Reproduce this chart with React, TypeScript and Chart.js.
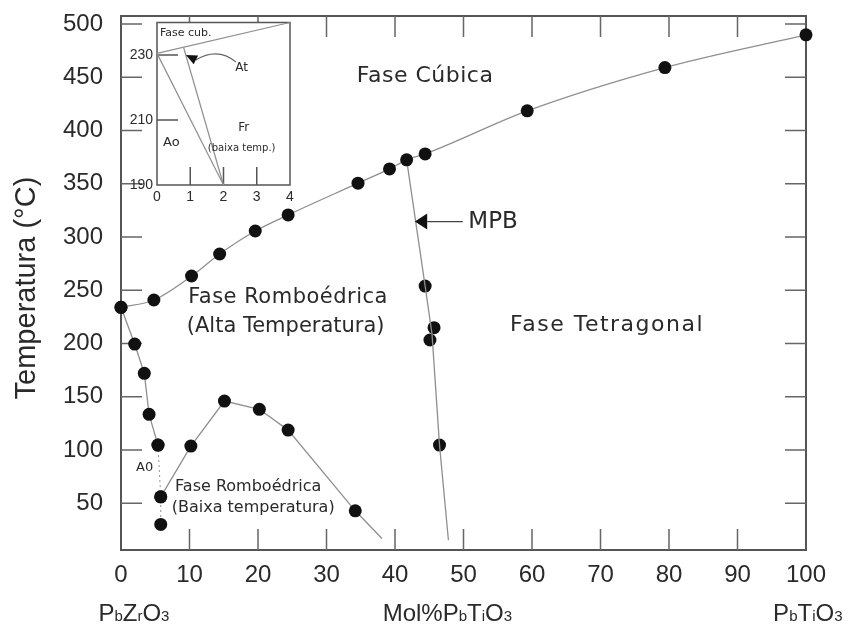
import React, { useEffect, useRef } from "react";
import { Chart, registerables } from "chart.js";

Chart.register(...registerables);

// ---------------- main chart data ----------------
const cubicX = [0, 4.8, 10.3, 14.4, 19.6, 24.4, 34.6, 39.2, 41.7, 44.4, 59.3, 79.4, 100];
const cubicY = [233.9, 240.8, 263.3, 284.0, 305.6, 320.7, 350.5, 363.9, 372.4, 378.0, 418.4, 459.1, 489.8];
const aoX = [0, 2.0, 3.4, 4.1, 5.4];
const aoY = [233.9, 199.4, 171.9, 133.4, 104.5];
const aoDotX = [5.4, 5.8, 5.8];
const aoDotY = [104.5, 55.9, 30.0];
const lowX = [5.8, 10.2, 15.1, 20.2, 24.4, 34.2, 38.1];
const lowY = [55.9, 103.6, 145.9, 138.1, 118.6, 42.8, 16.8];
const mpbX = [44.4, 45.7, 45.1, 46.5];
const mpbY = [253.9, 214.8, 203.2, 104.5];
const mpbLineX = [41.7, 44.4, 45.4, 46.5, 47.8];
const mpbLineY = [372.4, 253.9, 209.0, 104.5, 15.2];
const xTicks = [0, 10, 20, 30, 40, 50, 60, 70, 80, 90, 100];
const yTicks = [50, 100, 150, 200, 250, 300, 350, 400, 450, 500];
const yTitle = "Temperatura (°C)";

// formula labels under the x axis: [text, isSmall]
const formulaLeft: [string, boolean][] = [["P", false], ["b", true], ["Z", false], ["r", true], ["O", false], ["3", true]];
const formulaMid: [string, boolean][] = [["Mol%P", false], ["b", true], ["T", false], ["i", true], ["O", false], ["3", true]];
const formulaRight: [string, boolean][] = [["P", false], ["b", true], ["T", false], ["i", true], ["O", false], ["3", true]];

// region labels (text, x, y in data units, font size, letter spacing, align)
const mainLabels: [string, number, number, number, number, CanvasTextAlign][] = [
  ["Fase Cúbica", 44.4, 451.2, 22, 0.5, "center"],
  ["Fase Romboédrica", 9.8, 242.7, 21, 0.5, "left"],
  ["(Alta Temperatura)", 9.6, 215.4, 21, 0, "left"],
  ["Fase Tetragonal", 56.8, 217.3, 22, 1.5, "left"],
  ["A0", 2.2, 82.9, 13, 0, "left"],
  ["Fase Romboédrica", 7.9, 65.0, 16, 0, "left"],
  ["(Baixa temperatura)", 7.4, 45.3, 16, 0, "left"],
  ["MPB", 50.7, 314.4, 23, 0, "left"],
];

// ---------------- inset data ----------------
const insetCubX = [0, 4];
const insetCubY = [230.5, 240];
const insetAoX = [0, 2];
const insetAoY = [230.5, 190];
const insetAtX = [0.8, 2];
const insetAtY = [232.3, 190];
const insetXTicks = [0, 1, 2, 3, 4];
const insetYTicks = [190, 210, 230];
const insetLabels: [string, number, number, number][] = [
  ["Fase cub.", 0.09, 236.8, 11],
  ["At", 2.35, 226.0, 12],
  ["Fr", 2.44, 207.5, 12],
  ["(baixa temp.)", 1.53, 201.4, 10],
  ["Ao", 0.18, 202.9, 13],
];

const SANS = "'Liberation Sans', Arial, sans-serif";
const DEJAVU = "'DejaVu Sans', sans-serif";
const TEXT = "#2a2a2a";
const LINE = "#8f8f8f";

function pts(xs: number[], ys: number[]) {
  return xs.map((x, i) => ({ x, y: ys[i] }));
}

function drawRuns(ctx: CanvasRenderingContext2D, runs: [string, boolean][], x: number, base: number, big: number, small: number) {
  let cx = x;
  ctx.textAlign = "left";
  ctx.textBaseline = "alphabetic";
  for (const [t, s] of runs) {
    ctx.font = `${s ? small : big}px ${SANS}`;
    ctx.fillText(t, cx, base);
    cx += ctx.measureText(t).width;
  }
}

const mainDecor = {
  id: "mainDecor",
  beforeDatasetsDraw(chart: any) {
    const { ctx, chartArea: a, scales } = chart;
    const x = scales.x, y = scales.y;
    ctx.save();
    ctx.strokeStyle = "#555";
    ctx.lineWidth = 2;
    ctx.strokeRect(a.left, a.top, a.right - a.left, a.bottom - a.top);
    ctx.lineWidth = 1.5;
    ctx.strokeStyle = "#666";
    ctx.beginPath();
    for (const v of xTicks) {
      if (v <= 0 || v >= 100) continue;
      const px = x.getPixelForValue(v);
      ctx.moveTo(px, a.bottom); ctx.lineTo(px, a.bottom - 21);
      ctx.moveTo(px, a.top); ctx.lineTo(px, a.top + 21);
    }
    for (const v of yTicks) {
      const py = y.getPixelForValue(v);
      ctx.moveTo(a.left, py); ctx.lineTo(a.left + 21, py);
      ctx.moveTo(a.right, py); ctx.lineTo(a.right - 21, py);
    }
    ctx.stroke();
    ctx.restore();
  },
  afterDatasetsDraw(chart: any) {
    const { ctx, chartArea: a, scales } = chart;
    const x = scales.x, y = scales.y;
    ctx.save();
    ctx.fillStyle = TEXT;
    // region labels
    ctx.textBaseline = "middle";
    for (const [t, vx, vy, fs, ls, al] of mainLabels) {
      ctx.font = `${fs}px ${DEJAVU}`;
      (ctx as any).letterSpacing = `${ls}px`;
      ctx.textAlign = al;
      ctx.fillText(t, x.getPixelForValue(vx), y.getPixelForValue(vy));
    }
    (ctx as any).letterSpacing = "0px";
    // MPB arrow
    const tipX = x.getPixelForValue(42.9), baseX = x.getPixelForValue(44.7), endX = x.getPixelForValue(49.9);
    const ay = y.getPixelForValue(314.4);
    ctx.fillStyle = "#111";
    ctx.beginPath();
    ctx.moveTo(tipX, ay); ctx.lineTo(baseX, ay - 8); ctx.lineTo(baseX, ay + 8); ctx.closePath();
    ctx.fill();
    ctx.strokeStyle = "#444"; ctx.lineWidth = 1.3;
    ctx.beginPath(); ctx.moveTo(baseX, ay); ctx.lineTo(endX, ay); ctx.stroke();
    // formula row
    ctx.fillStyle = TEXT;
    const base = a.bottom + 71;
    drawRuns(ctx, formulaLeft, x.getPixelForValue(-3.3), base, 24, 15);
    drawRuns(ctx, formulaMid, x.getPixelForValue(38.2), base, 24, 15);
    drawRuns(ctx, formulaRight, x.getPixelForValue(95.2), base, 24, 15);
    // y title
    ctx.save();
    ctx.translate(27, y.getPixelForValue(252));
    ctx.rotate(-Math.PI / 2);
    ctx.font = `29px ${SANS}`;
    ctx.textAlign = "center";
    ctx.textBaseline = "middle";
    ctx.fillText(yTitle, 0, 0);
    ctx.restore();
    ctx.restore();
  },
};

const insetDecor = {
  id: "insetDecor",
  beforeDatasetsDraw(chart: any) {
    const { ctx, chartArea: a, scales } = chart;
    const x = scales.x, y = scales.y;
    ctx.save();
    ctx.fillStyle = "#fff";
    ctx.fillRect(a.left, a.top, a.right - a.left, a.bottom - a.top);
    ctx.strokeStyle = "#555";
    ctx.lineWidth = 1.5;
    ctx.strokeRect(a.left, a.top, a.right - a.left, a.bottom - a.top);
    ctx.beginPath();
    for (const v of insetXTicks) {
      if (v <= 0 || v >= 4) continue;
      const px = x.getPixelForValue(v);
      ctx.moveTo(px, a.bottom); ctx.lineTo(px, a.bottom - 18);
    }
    for (const v of insetYTicks) {
      if (v <= 190) continue;
      const py = y.getPixelForValue(v);
      ctx.moveTo(a.left, py); ctx.lineTo(a.left + 21, py);
    }
    ctx.stroke();
    ctx.restore();
  },
  afterDatasetsDraw(chart: any) {
    const { ctx, scales } = chart;
    const x = scales.x, y = scales.y;
    ctx.save();
    ctx.fillStyle = TEXT;
    ctx.textAlign = "left";
    ctx.textBaseline = "middle";
    for (const [t, vx, vy, fs] of insetLabels) {
      ctx.font = `${fs}px ${DEJAVU}`;
      ctx.fillText(t, x.getPixelForValue(vx), y.getPixelForValue(vy));
    }
    // curved arrow from "At" to the At boundary
    const sx = x.getPixelForValue(2.38), sy = y.getPixelForValue(227.8);
    const cx = x.getPixelForValue(1.83), cy = y.getPixelForValue(232.5);
    const ex = x.getPixelForValue(1.17), ey = y.getPixelForValue(228.5);
    const tx = x.getPixelForValue(0.87), ty = y.getPixelForValue(230.0);
    ctx.strokeStyle = "#666"; ctx.lineWidth = 1.2;
    ctx.beginPath(); ctx.moveTo(sx, sy); ctx.quadraticCurveTo(cx, cy, ex, ey); ctx.stroke();
    const dx = tx - ex, dy = ty - ey, len = Math.hypot(dx, dy);
    const px = -dy / len * 5, py = dx / len * 5;
    ctx.fillStyle = "#111";
    ctx.beginPath();
    ctx.moveTo(tx, ty); ctx.lineTo(ex + px, ey + py); ctx.lineTo(ex - px, ey - py); ctx.closePath();
    ctx.fill();
    ctx.restore();
  },
};

const pointStyle = { pointRadius: 6.5, pointBackgroundColor: "#111", pointBorderColor: "#111", pointBorderWidth: 0 };

const noPadX = (h: number) => (s: any) => { s.height = h; s.paddingLeft = 0; s.paddingRight = 0; s.paddingTop = 0; s.paddingBottom = 0; };
const noPadY = (w: number) => (s: any) => { s.width = w; s.paddingLeft = 0; s.paddingRight = 0; s.paddingTop = 0; s.paddingBottom = 0; };

export default function App() {
  const mainRef = useRef<HTMLCanvasElement | null>(null);
  const insetRef = useRef<HTMLCanvasElement | null>(null);

  useEffect(() => {
    document.body.style.margin = "0";
    const lineDs = (data: any[], extra: any = {}) => ({
      type: "line",
      data,
      showLine: true,
      borderColor: LINE,
      borderWidth: 1.3,
      fill: false,
      clip: false,
      ...extra,
    });
    const main = new Chart(mainRef.current!, {
      type: "scatter",
      data: {
        datasets: [
          lineDs(pts(cubicX, cubicY), { cubicInterpolationMode: "monotone", ...pointStyle }),
          lineDs(pts(aoX, aoY), { ...pointStyle }),
          lineDs(pts(aoDotX, aoDotY), { borderDash: [2, 3], borderWidth: 1, ...pointStyle }),
          lineDs(pts(lowX, lowY), {
            ...pointStyle,
            pointRadius: (c: any) => (c.dataIndex === lowX.length - 1 ? 0 : 6.5),
          }),
          lineDs(pts(mpbLineX, mpbLineY), { pointRadius: 0 }),
          { type: "scatter", data: pts(mpbX, mpbY), showLine: false, clip: false, ...pointStyle },
        ] as any,
      },
      options: {
        responsive: false,
        animation: false,
        events: [],
        layout: { padding: { left: 0, top: 16, right: 51, bottom: 0 } },
        plugins: { legend: { display: false }, tooltip: { enabled: false } },
        scales: {
          x: {
            type: "linear",
            min: 0,
            max: 100,
            afterBuildTicks: (s: any) => { s.ticks = xTicks.map((v) => ({ value: v })); },
            afterFit: noPadX(78),
            grid: { display: false, drawTicks: false },
            border: { display: false },
            ticks: { color: TEXT, font: { family: SANS, size: 24 }, padding: 11, maxRotation: 0, autoSkip: false },
          },
          y: {
            type: "linear",
            min: 6,
            max: 507.5,
            afterBuildTicks: (s: any) => { s.ticks = yTicks.map((v) => ({ value: v })); },
            afterFit: noPadY(121),
            grid: { display: false, drawTicks: false },
            border: { display: false },
            ticks: { color: TEXT, font: { family: SANS, size: 24 }, padding: 18, autoSkip: false },
          },
        },
      } as any,
      plugins: [mainDecor],
    });

    const inset = new Chart(insetRef.current!, {
      type: "scatter",
      data: {
        datasets: [
          lineDs(pts(insetCubX, insetCubY), { pointRadius: 0, borderWidth: 1.2 }),
          lineDs(pts(insetAoX, insetAoY), { pointRadius: 0, borderWidth: 1.2 }),
          lineDs(pts(insetAtX, insetAtY), { pointRadius: 0, borderWidth: 1.2 }),
        ] as any,
      },
      options: {
        responsive: false,
        animation: false,
        events: [],
        layout: { padding: { left: 0, top: 12.5, right: 10, bottom: 0 } },
        plugins: { legend: { display: false }, tooltip: { enabled: false } },
        scales: {
          x: {
            type: "linear",
            min: 0,
            max: 4,
            afterBuildTicks: (s: any) => { s.ticks = insetXTicks.map((v) => ({ value: v })); },
            afterFit: noPadX(25),
            grid: { display: false, drawTicks: false },
            border: { display: false },
            ticks: { color: TEXT, font: { family: SANS, size: 14 }, padding: 4, maxRotation: 0, autoSkip: false },
          },
          y: {
            type: "linear",
            min: 190,
            max: 240,
            afterBuildTicks: (s: any) => { s.ticks = insetYTicks.map((v) => ({ value: v })); },
            afterFit: noPadY(57),
            grid: { display: false, drawTicks: false },
            border: { display: false },
            ticks: { color: TEXT, font: { family: SANS, size: 14 }, padding: 4, autoSkip: false },
          },
        },
      } as any,
      plugins: [insetDecor],
    });

    return () => {
      main.destroy();
      inset.destroy();
    };
  }, []);

  return (
    <div style={{ position: "relative", width: 857, height: 628, background: "#fff" }}>
      <canvas ref={mainRef} width={857} height={628} style={{ position: "absolute", left: 0, top: 0, width: 857, height: 628 }} />
      <canvas ref={insetRef} width={200} height={200} style={{ position: "absolute", left: 100, top: 10, width: 200, height: 200 }} />
    </div>
  );
}
